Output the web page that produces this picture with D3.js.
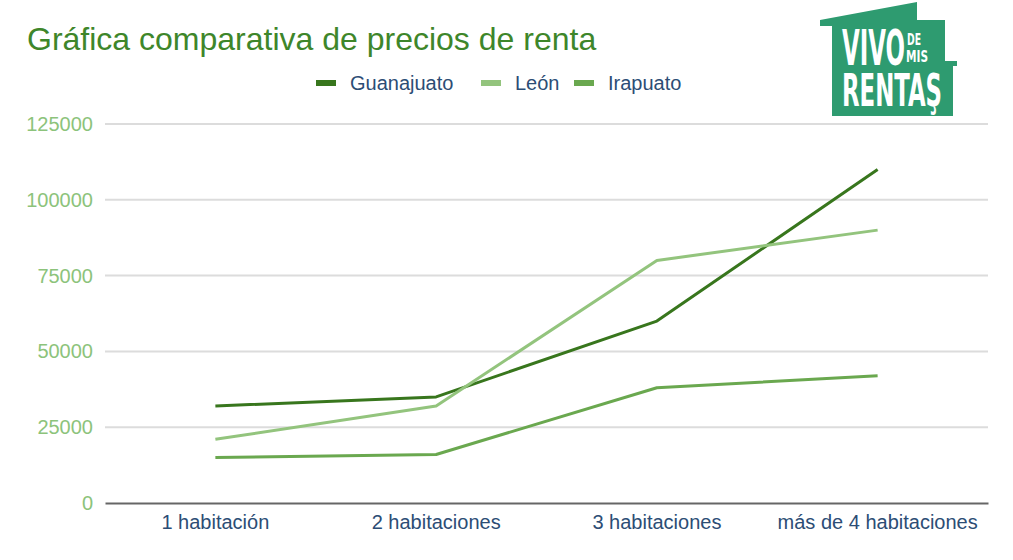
<!DOCTYPE html>
<html>
<head>
<meta charset="utf-8">
<script src="https://cdn.jsdelivr.net/npm/d3@7"></script>
<style>
  body { margin: 0; background: #fff; }
  svg { font-family: Arial, "Liberation Sans", sans-serif; }
</style>
</head>
<body>
<svg id="chart" width="1013" height="560"></svg>
<script>
// data
const categories = ["1 habitación", "2 habitaciones", "3 habitaciones", "más de 4 habitaciones"];
const seriesNames = ["Guanajuato", "León", "Irapuato"];
const guanajuato = [32000, 35000, 60000, 110000];
const leon = [21000, 32000, 80000, 90000];
const irapuato = [15000, 16000, 38000, 42000];
const yTicks = [0, 25000, 50000, 75000, 100000, 125000];
const colors = ["#38761d", "#93c47d", "#6aa84f"];

const svg = d3.select("#chart");
const margin = {top: 124, bottom: 57, left: 105, right: 25};
const width = 1013, height = 560;

const x = d3.scaleBand()
    .domain(categories)
    .range([margin.left, width - margin.right]);

const y = d3.scaleLinear()
    .domain([0, 125000])
    .range([height - margin.bottom, margin.top]);

// title
svg.append("text")
    .attr("x", 27)
    .attr("y", 50)
    .attr("fill", "#3e862a")
    .style("font-size", "32px")
    .text("Gráfica comparativa de precios de renta");

// gridlines
svg.append("g")
    .selectAll("line")
    .data(yTicks.filter(d => d > 0))
    .join("line")
    .attr("x1", margin.left)
    .attr("x2", width - margin.right)
    .attr("y1", d => y(d))
    .attr("y2", d => y(d))
    .attr("stroke", "#dcdcdc")
    .attr("stroke-width", 2);

// y axis labels
const yAxis = svg.append("g")
    .attr("transform", `translate(${margin.left - 12},0)`)
    .call(d3.axisLeft(y).tickValues(yTicks).tickSize(0).tickPadding(0).tickFormat(d3.format("d")));
yAxis.select(".domain").remove();
yAxis.selectAll("text")
    .attr("fill", "#8cc37b")
    .style("font-size", "20px")
    .style("font-family", "Arial, 'Liberation Sans', sans-serif");

// x axis
const xAxis = svg.append("g")
    .attr("transform", `translate(0,${y(0)})`)
    .call(d3.axisBottom(x).tickSize(0).tickPadding(12));
xAxis.select(".domain")
    .attr("stroke", "#666")
    .attr("stroke-width", 2);
xAxis.selectAll("text")
    .attr("fill", "#2c4d75")
    .style("font-size", "20px")
    .style("font-family", "Arial, 'Liberation Sans', sans-serif");

// lines
const allSeries = [guanajuato, leon, irapuato];
const line = d3.line()
    .x((d, i) => x(categories[i]) + x.bandwidth() / 2)
    .y(d => y(d));

svg.append("g")
    .selectAll("path")
    .data(allSeries)
    .join("path")
    .attr("d", d => line(d))
    .attr("fill", "none")
    .attr("stroke", (d, i) => colors[i])
    .attr("stroke-width", 3)
    .attr("stroke-linejoin", "round");

// legend
const legendX = [316, 481, 574];
const legend = svg.append("g")
    .selectAll("g")
    .data(seriesNames)
    .join("g")
    .attr("transform", (d, i) => `translate(${legendX[i]},83)`);
legend.append("rect")
    .attr("x", 0).attr("y", -3)
    .attr("width", 20).attr("height", 6)
    .attr("fill", (d, i) => colors[i]);
legend.append("text")
    .attr("x", 34).attr("y", 7)
    .attr("fill", "#2c4d75")
    .style("font-size", "20px")
    .text(d => d);

// logo (house shape with lettering)
const logo = svg.append("g");
logo.append("path")
    .attr("d", "M820,20 L917,2 L917,20 L945,20 L945,61 L957,61 L957,66 L953,66 L953,116 L832,116 L832,26 L820,26 Z")
    .attr("fill", "#2e9b70");

const logoFont = "'Liberation Sans Narrow', 'DejaVu Sans Condensed', sans-serif";
const logoText = [
    {t: "VIVO", x: 842, y: 65, fs: 50, len: 63},
    {t: "DE", x: 907, y: 45, fs: 16, len: 14},
    {t: "MIS", x: 906, y: 62, fs: 15, len: 22},
    {t: "RENTAŞ", x: 842, y: 106, fs: 45, len: 100}
];
logo.selectAll("text")
    .data(logoText)
    .join("text")
    .attr("x", d => d.x)
    .attr("y", d => d.y)
    .attr("fill", "#fff")
    .style("font-family", logoFont)
    .style("font-weight", "bold")
    .style("font-size", d => d.fs + "px")
    .attr("textLength", d => d.len)
    .attr("lengthAdjust", "spacingAndGlyphs")
    .text(d => d.t);
</script>
</body>
</html>
